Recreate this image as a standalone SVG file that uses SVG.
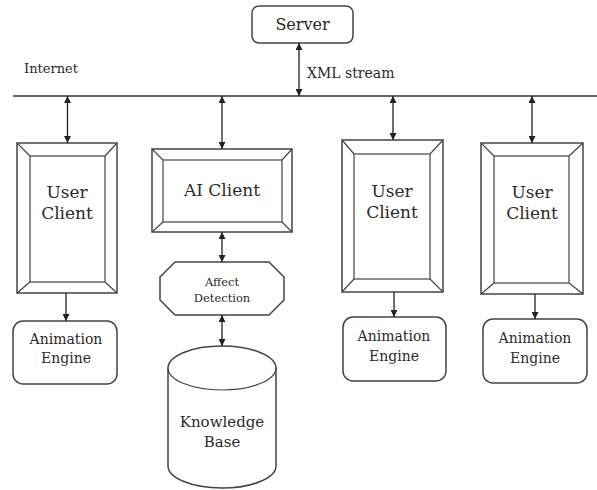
<svg xmlns="http://www.w3.org/2000/svg" width="597" height="490" viewBox="0 0 597 490">
<defs>
<marker id="ah" viewBox="0 0 10 10" refX="10" refY="5" markerWidth="7" markerHeight="7" markerUnits="userSpaceOnUse" orient="auto-start-reverse">
<path d="M0,0 L10,5 L0,10 z" fill="#222"/>
</marker>
<style>
.ln{stroke:#333;stroke-width:1.3;fill:none}
.bx{stroke:#444;stroke-width:1.5;fill:#fff}
.bv{stroke:#444;stroke-width:1.2;fill:none}
.ar{stroke:#222;stroke-width:1.3;fill:none}
.tx{font-family:'DejaVu Serif','Liberation Serif',serif;fill:#2a2a2a;text-anchor:middle}
.st{text-anchor:start}
.t17{font-size:17px}
.t16{font-size:16px}
.t15{font-size:15px}
.t14{font-size:14px}
.t12{font-size:11.5px}
.t13{font-size:13px}
</style>
</defs>
<rect width="597" height="490" fill="#fff"/>

<g id="internet">
<line class="ln" x1="13" y1="96" x2="597" y2="96"/>
<text class="tx st t13" x="24" y="73">Internet</text>
</g>

<g id="server">
<rect class="bx" x="252" y="6" width="101" height="37" rx="7"/>
<text class="tx t16" x="302.5" y="30">Server</text>
</g>

<g id="userclient1">
<rect class="bx" x="17" y="143" width="100" height="150"/>
<rect class="bv" x="30" y="156" width="75" height="126"/>
<path class="bv" d="M17,143 L30,156 M117,143 L105,156 M17,293 L30,282 M117,293 L105,282"/>
<text class="tx t17" x="67" y="198">User</text>
<text class="tx t17" x="67" y="219">Client</text>
</g>

<g id="aiclient">
<rect class="bx" x="152" y="149" width="140" height="83"/>
<rect class="bv" x="163" y="160" width="119" height="62"/>
<path class="bv" d="M152,149 L163,160 M292,149 L282,160 M152,232 L163,222 M292,232 L282,222"/>
<text class="tx t17" x="222" y="196">AI Client</text>
</g>

<g id="userclient2">
<rect class="bx" x="342" y="140" width="101" height="152"/>
<rect class="bv" x="354" y="154" width="76" height="125"/>
<path class="bv" d="M342,140 L354,154 M443,140 L430,154 M342,292 L354,279 M443,292 L430,279"/>
<text class="tx t17" x="392" y="197">User</text>
<text class="tx t17" x="392" y="218">Client</text>
</g>

<g id="userclient3">
<rect class="bx" x="481" y="143" width="102" height="151"/>
<rect class="bv" x="494" y="156" width="75" height="127"/>
<path class="bv" d="M481,143 L494,156 M583,143 L569,156 M481,294 L494,283 M583,294 L569,283"/>
<text class="tx t17" x="532" y="198">User</text>
<text class="tx t17" x="532" y="219">Client</text>
</g>

<g id="anim1">
<rect class="bx" x="13" y="321" width="104" height="63" rx="10"/>
<text class="tx t14" x="66" y="344">Animation</text>
<text class="tx t14" x="66" y="363">Engine</text>
</g>

<g id="anim2">
<rect class="bx" x="343" y="317" width="103" height="64" rx="10"/>
<text class="tx t14" x="394" y="341">Animation</text>
<text class="tx t14" x="394" y="361">Engine</text>
</g>

<g id="anim3">
<rect class="bx" x="483" y="319" width="104" height="64" rx="10"/>
<text class="tx t14" x="535" y="343">Animation</text>
<text class="tx t14" x="535" y="363">Engine</text>
</g>

<g id="affect">
<polygon class="bx" points="175,262 269,262 284,277 284,300 269,315 175,315 160,300 160,277"/>
<text class="tx t12" x="222" y="286">Affect</text>
<text class="tx t12" x="222" y="302">Detection</text>
</g>

<g id="knowledge">
<path class="bx" d="M168,368 A54,22 0 0 1 276,368 L276,466 A54,22 0 0 1 168,466 Z"/>
<path class="bv" d="M168,368 A54,22 0 0 0 276,368"/>
<text class="tx t15" x="222" y="427">Knowledge</text>
<text class="tx t15" x="222" y="447">Base</text>
</g>

<g id="connectors">
<line class="ar" x1="299" y1="43" x2="299" y2="96" marker-start="url(#ah)" marker-end="url(#ah)"/>
<text class="tx st t14" x="307" y="78">XML stream</text>
<line class="ar" x1="67.5" y1="96" x2="67.5" y2="143" marker-start="url(#ah)" marker-end="url(#ah)"/>
<line class="ar" x1="222" y1="96" x2="222" y2="149" marker-start="url(#ah)" marker-end="url(#ah)"/>
<line class="ar" x1="393" y1="96" x2="393" y2="140" marker-start="url(#ah)" marker-end="url(#ah)"/>
<line class="ar" x1="532" y1="96" x2="532" y2="143" marker-start="url(#ah)" marker-end="url(#ah)"/>
<line class="ar" x1="222" y1="232" x2="222" y2="262" marker-start="url(#ah)" marker-end="url(#ah)"/>
<line class="ar" x1="222" y1="315" x2="222" y2="346" marker-start="url(#ah)" marker-end="url(#ah)"/>
<line class="ar" x1="66" y1="293" x2="66" y2="321" marker-end="url(#ah)"/>
<line class="ar" x1="394" y1="292" x2="394" y2="317" marker-end="url(#ah)"/>
<line class="ar" x1="535" y1="294" x2="535" y2="319" marker-end="url(#ah)"/>
</g>
</svg>
